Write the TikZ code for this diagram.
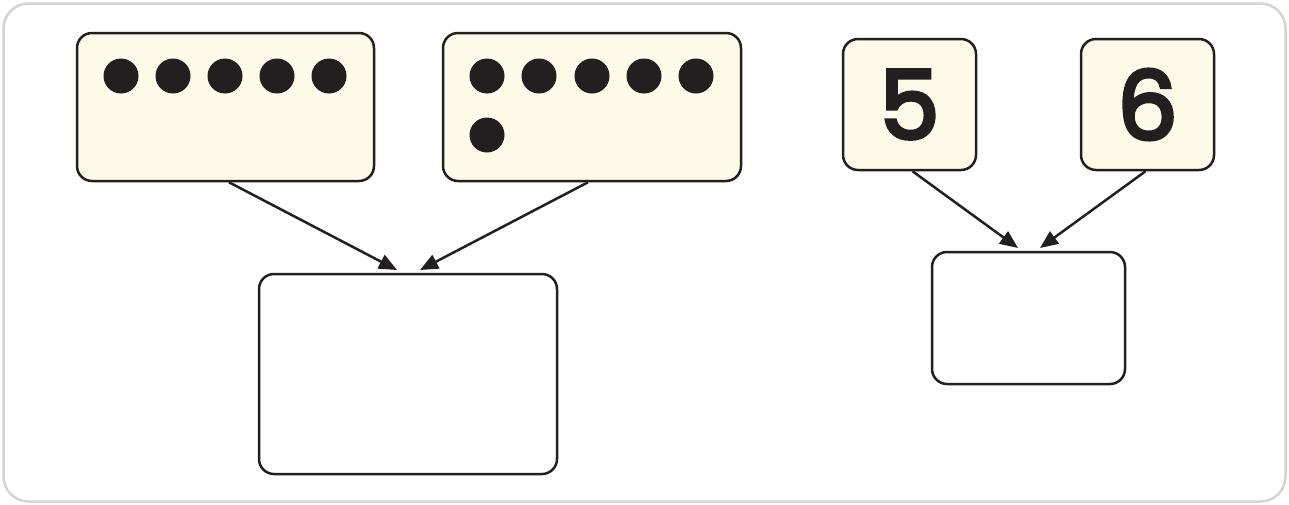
\documentclass[tikz,border=0pt]{standalone}
\usepackage{fontspec}
\newfontfamily\numfont{Poppins}[FakeBold=4]
\usetikzlibrary{arrows.meta}
\definecolor{ink}{HTML}{231F20}
\definecolor{cream}{HTML}{FEFAE8}
\definecolor{framegray}{HTML}{D4D4D4}
\tikzset{
  cardbox/.style={draw=ink, line width=2.5pt, rounded corners=15pt, fill=cream, inner sep=0pt},
  answerbox/.style={draw=ink, line width=2.5pt, rounded corners=15pt, fill=white, inner sep=0pt},
  dot/.style={circle, fill=ink, minimum size=35pt, inner sep=0pt},
  arr/.style={draw=ink, line width=2.5pt, -{Triangle[length=18pt,width=15pt]}},
  numtext/.style={font=\numfont\fontsize{95}{95}\selectfont, text=ink}
}
\begin{document}
\begin{tikzpicture}[x=1pt,y=-1pt]
\useasboundingbox (0,0) rectangle (1289,504);
\draw[framegray, line width=2.5pt, rounded corners=25pt] (3.5,3.5) rectangle (1285.5,501.5);
% left group
\node[cardbox, minimum width=297pt, minimum height=148pt] (A) at (225.5,107) {};
\node[cardbox, minimum width=298pt, minimum height=148pt] (B) at (592,107) {};
\node[answerbox, minimum width=298pt, minimum height=200pt] (C) at (408,374) {};
\foreach \i/\x in {1/121,2/173,3/225,4/277,5/329}
  \node[dot] (a\i) at (\x,76) {};
\foreach \i/\x in {1/487,2/539,3/592,4/644,5/696}
  \node[dot] (b\i) at (\x,76) {};
\node[dot] (b6) at (487,135) {};
\coordinate (ta) at (397,270);
\coordinate (tb) at (420,270);
\draw[arr] ([xshift=3.5pt]A.south) -- (ta);
\draw[arr] ([xshift=-4pt]B.south) -- (tb);
% right group
\node[cardbox, minimum width=133pt, minimum height=131pt] (n5) at (909.5,104.5) {};
\node[cardbox, minimum width=133pt, minimum height=131pt] (n6) at (1147.5,104.5) {};
\node[numtext] (l5) at (n5.center) {5};
\node[numtext] (l6) at (n6.center) {6};
\node[answerbox, minimum width=193pt, minimum height=132pt] (D) at (1028.5,318) {};
\coordinate (t5) at (1018,248);
\coordinate (t6) at (1040,248);
\draw[arr] ([xshift=3pt]n5.south) -- (t5);
\draw[arr] ([xshift=-2pt]n6.south) -- (t6);
\end{tikzpicture}
\end{document}
